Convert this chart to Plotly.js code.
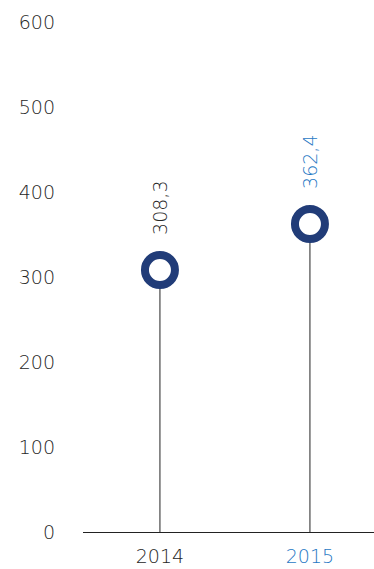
<!DOCTYPE html>
<html>
<head>
<meta charset="utf-8">
<script src="https://cdn.plot.ly/plotly-3.0.1.min.js"></script>
<style>html,body{margin:0;padding:0;background:#fff;}#chart{width:374px;height:569px;}</style>
</head>
<body>
<div id="chart"></div>
<script>
var years = ['2014', '2015'];
var values = [308.3, 362.4];
var valueLabels = ['308,3', '362,4'];
var labelColors = ['#262626', '#1f78c4'];
var yTicks = [0, 100, 200, 300, 400, 500, 600];

var FONT = '"DejaVu Sans Light", "DejaVu Sans ExtraLight", "DejaVu Sans", sans-serif';
var traces = [];
years.forEach(function (yr, i) {
  traces.push({
    type: 'scatter', mode: 'lines',
    x: [i, i], y: [0, values[i]],
    line: {color: '#222222', width: 1},
    hoverinfo: 'skip', showlegend: false
  });
});
traces.push({
  type: 'scatter', mode: 'markers',
  x: years.map(function (_, i) { return i; }), y: values,
  marker: {size: 30, color: '#ffffff', line: {color: '#213c78', width: 8}},
  showlegend: false
});

var annotations = years.map(function (yr, i) {
  return {
    x: i, y: values[i], xref: 'x', yref: 'y',
    text: valueLabels[i], showarrow: false, textangle: -90,
    xanchor: 'center', yanchor: 'bottom', yshift: 33,
    font: {family: FONT, size: 19, weight: 200, color: labelColors[i]}
  };
});

var layout = {
  width: 374, height: 569,
  margin: {l: 83, r: 0, t: 22, b: 37},
  paper_bgcolor: '#ffffff', plot_bgcolor: '#ffffff',
  showlegend: false,
  xaxis: {
    range: [-0.513, 1.427],
    tickvals: years.map(function (_, i) { return i; }),
    ticktext: years.map(function (yr, i) { return '<span style="color:' + labelColors[i] + '">' + yr + '</span>'; }),
    showgrid: false, zeroline: false, showline: true, linecolor: '#222222', linewidth: 1,
    ticks: '', ticklabelstandoff: 7,
    tickfont: {family: FONT, size: 19, weight: 200, color: '#262626'},
    fixedrange: true
  },
  yaxis: {
    range: [0, 600], tickvals: yTicks,
    showgrid: false, zeroline: false, showline: false,
    ticks: '', ticklabelstandoff: 27,
    tickfont: {family: FONT, size: 19, weight: 200, color: '#262626'},
    fixedrange: true
  },
  annotations: annotations
};

Plotly.newPlot('chart', traces, layout, {displayModeBar: false, staticPlot: true});
</script>
</body>
</html>
